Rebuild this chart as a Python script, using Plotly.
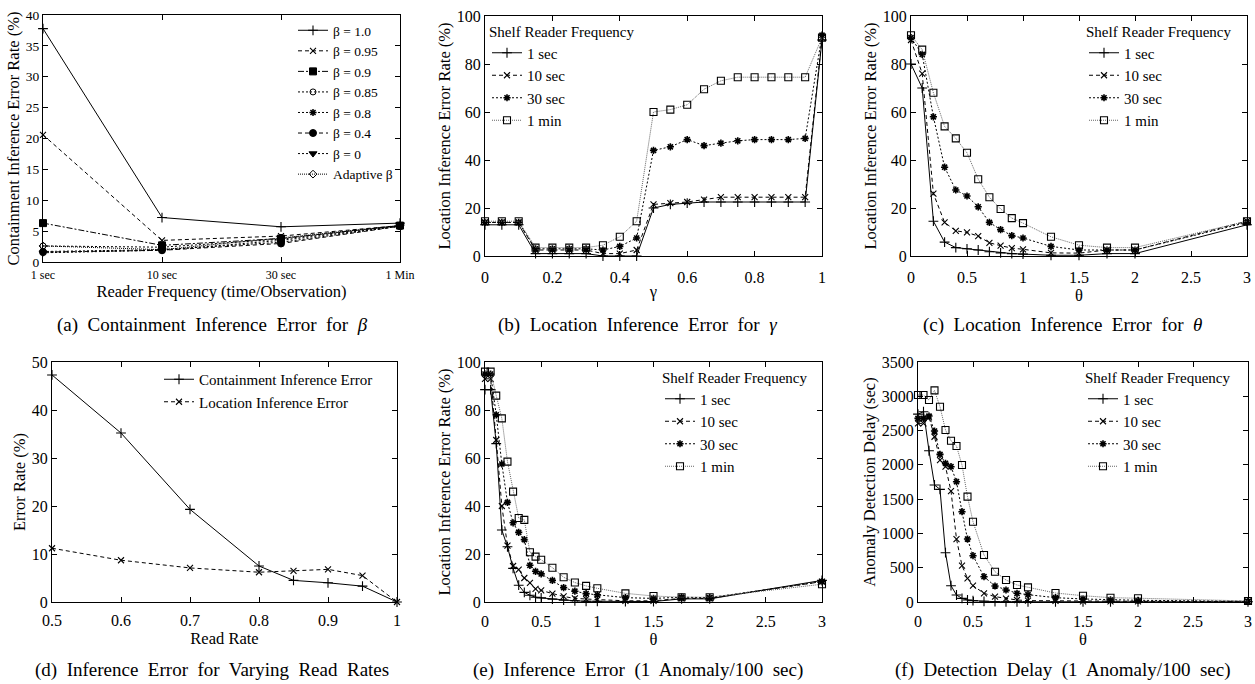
import plotly.graph_objects as go

W, H = 1255, 684
FONT = "Liberation Serif"

# ---------------- (a) Containment inference error for beta ----------------
freq_labels = ["1 sec", "10 sec", "30 sec", "1 Min"]
beta_names = ["β = 1.0", "β = 0.95", "β = 0.9", "β = 0.85", "β = 0.8", "β = 0.4", "β = 0", "Adaptive β"]
beta_1_0 = [37.8, 7.2, 5.7, 6.3]
beta_0_95 = [20.6, 3.5, 4.2, 5.9]
beta_0_9 = [6.3, 2.7, 3.8, 5.9]
beta_0_85 = [2.6, 2.4, 3.7, 5.9]
beta_0_8 = [1.7, 2.0, 3.2, 5.8]
beta_0_4 = [1.6, 1.9, 3.0, 5.8]
beta_0 = [1.5, 1.9, 3.5, 5.8]
beta_adaptive = [2.6, 2.0, 3.9, 5.9]

# ---------------- (b) Location inference error for gamma ----------------
gamma = [0, 0.05, 0.1, 0.15, 0.2, 0.25, 0.3, 0.35, 0.4, 0.45, 0.5,
         0.55, 0.6, 0.65, 0.7, 0.75, 0.8, 0.85, 0.9, 0.95, 1]
gam_1sec = [13, 13, 13, 1, 1, 1, 1, 0, 0, 0, 20, 21.5, 22, 22.5, 22.5, 22.5, 22.5, 22.5, 22.5, 22.5, 90]
gam_10sec = [14, 14, 14, 2.5, 2.5, 2.5, 2.5, 1, 1, 2.5, 21.5, 22, 22.5, 23.5, 24.5, 24.5, 24.5, 24.5, 24.5, 24.5, 91]
gam_30sec = [14, 14, 14, 3, 3, 3, 3, 2.5, 4, 7.5, 44, 45.5, 48.5, 46, 47, 48, 48.5, 48.5, 48.5, 49, 92]
gam_1min = [14.5, 14.5, 14.5, 3.5, 3.5, 3.5, 3.5, 4.5, 8, 14.5, 60, 61, 63, 69.5, 73, 74.5, 74.5, 74.5, 74.5, 74.5, 91]

# ---------------- (c) Location inference error for theta ----------------
theta_c = [0, 0.1, 0.2, 0.3, 0.4, 0.5, 0.6, 0.7, 0.8, 0.9, 1, 1.25, 1.5, 1.75, 2, 3]
thc_1sec = [80, 70, 14.5, 5.8, 3.5, 3, 2.5, 1.8, 1.3, 1.0, 0.8, 0.3, 0.3, 1, 1, 13]
thc_10sec = [90, 76, 26, 14, 10.5, 9.8, 8.3, 5.5, 4.3, 3.3, 2.8, 1.3, 1.2, 2.5, 2.5, 14.5]
thc_30sec = [91, 84, 58, 37, 27.5, 25, 20.5, 14, 11, 8.5, 7.5, 4, 2.5, 2.5, 2.5, 14]
thc_1min = [92, 86, 68, 54, 49, 43, 32, 24.5, 19.6, 15.8, 13.7, 8, 4.5, 3.5, 3.5, 14.5]

# ---------------- (d) Inference error for varying read rates ----------------
read_rate = [0.5, 0.6, 0.7, 0.8, 0.85, 0.9, 0.95, 1]
containment_err = [47.3, 35.2, 19.3, 7.5, 4.5, 4.0, 3.3, 0]
location_err = [11.2, 8.7, 7.1, 6.2, 6.5, 6.8, 5.5, 0]

# ---------------- (e) Inference error (1 anomaly / 100 sec) ----------------
theta_ef = [0, 0.05, 0.1, 0.15, 0.2, 0.25, 0.3, 0.35, 0.4, 0.45, 0.5,
            0.6, 0.7, 0.8, 0.9, 1, 1.25, 1.5, 1.75, 2, 3]
the_1sec = [88.5, 88.5, 66, 30, 23, 14, 7, 4, 2.8, 2, 1.7, 1.2, 0.8, 0.5, 0.3, 0.3, 0.2, 0.2, 1.3, 1.3, 9]
the_10sec = [93, 93, 67.5, 40, 23.5, 15, 13.5, 10, 8, 5.5, 4.8, 3.5, 2.3, 1.5, 1.2, 1, 0.5, 0.5, 1.5, 1.5, 8.5]
the_30sec = [95, 95, 78, 57.5, 41.5, 33, 29, 26, 15.3, 12.8, 11.7, 9, 6, 4.5, 3.5, 3, 1.8, 1.5, 2, 1.8, 8.5]
the_1min = [96, 96, 86, 76.5, 58.5, 46, 35, 34.2, 20.7, 18.9, 17.6, 14.3, 10.3, 8.1, 6.7, 5.7, 3.6, 2.5, 2, 2, 7.4]

# ---------------- (f) Detection delay (1 anomaly / 100 sec) ----------------
thf_1sec = [2740, 2775, 2206, 1706, 1643, 719, 238, 102, 53, 29, 20, 10, 5, 3, 3, 3, 3, 3, 3, 3, 3]
thf_10sec = [2605, 2605, 2693, 2410, 2070, 1973, 1618, 918, 530, 345, 238, 127, 78, 48, 29, 20, 15, 10, 10, 10, 5]
thf_30sec = [2678, 2678, 2712, 2493, 2153, 2022, 1973, 1754, 1317, 918, 675, 369, 233, 175, 127, 107, 63, 44, 30, 25, 10]
thf_1min = [3018, 3018, 2945, 3086, 2848, 2508, 2352, 2274, 1997, 1536, 1171, 685, 442, 321, 248, 214, 131, 92, 63, 55, 15]

freq_names = ["1 sec", "10 sec", "30 sec", "1 min"]

# ---------------- styles ----------------
FREQ_STYLE = [
    dict(dash="solid", color="black", symbol="cross-thin", msize=7, mlw=1.1),
    dict(dash="4px,3px", color="black", symbol="x-thin", msize=6, mlw=1.1),
    dict(dash="2px,2px", color="black", symbol="asterisk", msize=6, mlw=1.6),
    dict(dash="1px,1px", color="#666666", symbol="square-open", msize=7, mlw=1.1),
]
BETA_STYLE = [
    dict(dash="solid", symbol="cross-thin", msize=7, mlw=1.1),
    dict(dash="4px,3px", symbol="x-thin", msize=6, mlw=1.1),
    dict(dash="6px,2px,2px,2px", symbol="square", msize=7, mlw=1),
    dict(dash="2px,2px", symbol="circle-open", msize=6, mlw=1),
    dict(dash="2px,2px", symbol="asterisk", msize=6, mlw=1.5),
    dict(dash="4px,3px", symbol="circle", msize=7, mlw=1),
    dict(dash="2px,2px", symbol="triangle-down", msize=7, mlw=1),
    dict(dash="1px,1px", symbol="diamond-open", msize=6, mlw=1),
]

fig = go.Figure()


def add(x, y, name, st, xa, ya, legend, color="black"):
    c = st.get("color", color)
    fig.add_trace(go.Scatter(
        x=x, y=y, name=name, mode="lines+markers",
        xaxis=xa, yaxis=ya, legend=legend, cliponaxis=False,
        line=dict(color=c, width=1, dash=st["dash"]),
        marker=dict(symbol=st["symbol"], size=st["msize"], color="black",
                    line=dict(color="black", width=st["mlw"])),
    ))


# (a)
for name, ys, st in zip(beta_names,
                        [beta_1_0, beta_0_95, beta_0_9, beta_0_85, beta_0_8, beta_0_4, beta_0, beta_adaptive],
                        BETA_STYLE):
    add(freq_labels, ys, name, st, "x", "y", "legend")
# (b)
for name, ys, st in zip(freq_names, [gam_1sec, gam_10sec, gam_30sec, gam_1min], FREQ_STYLE):
    add(gamma, ys, name, st, "x2", "y2", "legend2")
# (c)
for name, ys, st in zip(freq_names, [thc_1sec, thc_10sec, thc_30sec, thc_1min], FREQ_STYLE):
    add(theta_c, ys, name, st, "x3", "y3", "legend3")
# (d)
add(read_rate, containment_err, "Containment Inference Error", FREQ_STYLE[0], "x4", "y4", "legend4")
add(read_rate, location_err, "Location Inference Error", FREQ_STYLE[1], "x4", "y4", "legend4")
# (e)
for name, ys, st in zip(freq_names, [the_1sec, the_10sec, the_30sec, the_1min], FREQ_STYLE):
    add(theta_ef, ys, name, st, "x5", "y5", "legend5")
# (f)
for name, ys, st in zip(freq_names, [thf_1sec, thf_10sec, thf_30sec, thf_1min], FREQ_STYLE):
    add(theta_ef, ys, name, st, "x6", "y6", "legend6")


def px_x(a, b):
    return [a / W, b / W]


def px_y(top, bottom):
    return [1 - bottom / H, 1 - top / H]


def axis(domain, anchor, title, standoff, tickfont=16, titlefont=16.5, labeloff=0, **kw):
    d = dict(domain=domain, anchor=anchor, showline=True, linecolor="black", linewidth=1,
             mirror="ticks", ticks="inside", ticklen=5, tickcolor="black", tickwidth=1,
             showgrid=False, zeroline=False, automargin=False, ticklabelstandoff=labeloff,
             tickfont=dict(family=FONT, size=tickfont, color="black"),
             title=dict(text=title, font=dict(family=FONT, size=titlefont, color="black"),
                        standoff=standoff))
    d.update(kw)
    return d


lay = {}
# (a)
lay["xaxis"] = axis(px_x(43, 400), "y", "Reader Frequency (time/Observation)", 0, tickfont=12, titlefont=16.5,
                    labeloff=2, type="category", range=[0, 3])
lay["yaxis"] = axis(px_y(15, 262), "x", "Containment Inference Error Rate (%)", 2, tickfont=13.5, titlefont=16.5,
                    range=[0, 40], dtick=5)
# (b)
lay["xaxis2"] = axis(px_x(485, 822), "y2", "γ", 0, labeloff=7, range=[0, 1], dtick=0.2)
lay["yaxis2"] = axis(px_y(16, 256), "x2", "Location Inference Error Rate (%)", 2, range=[0, 100], dtick=20)
# (c)
lay["xaxis3"] = axis(px_x(911, 1247), "y3", "θ", 0, labeloff=7, range=[0, 3], dtick=0.5)
lay["yaxis3"] = axis(px_y(16, 256), "x3", "Location Inference Error Rate (%)", 2, range=[0, 100], dtick=20)
# (d)
lay["xaxis4"] = axis(px_x(52, 397), "y4", "Read Rate", 0, labeloff=4, range=[0.5, 1], dtick=0.1)
lay["yaxis4"] = axis(px_y(362, 602), "x4", "Error Rate (%)", 2, range=[0, 50], dtick=10)
# (e)
lay["xaxis5"] = axis(px_x(485, 822), "y5", "θ", 0, labeloff=5, range=[0, 3], dtick=0.5)
lay["yaxis5"] = axis(px_y(362, 602), "x5", "Location Inference Error Rate (%)", 2, range=[0, 100], dtick=20)
# (f)
lay["xaxis6"] = axis(px_x(918, 1248), "y6", "θ", 0, labeloff=5, range=[0, 3], dtick=0.5)
lay["yaxis6"] = axis(px_y(362, 602), "x6", "Anomaly Detection Delay (sec)", 2, range=[0, 3500], dtick=500)


def legend(x, y, xanchor, size=15, title=None):
    d = dict(x=x / W, y=1 - y / H, xanchor=xanchor, yanchor="top", bgcolor="rgba(0,0,0,0)",
             font=dict(family=FONT, size=size, color="black"), tracegroupgap=0,
             itemwidth=30)
    if title:
        d["title"] = dict(text=title, side="top", font=dict(family=FONT, size=size, color="black"))
    return d


lay["legend"] = legend(398, 15, "right", size=13.5)
lay["legend2"] = legend(487, 17, "left", title="Shelf Reader Frequency")
lay["legend3"] = legend(1234, 17, "right", title="Shelf Reader Frequency")
lay["legend4"] = legend(378, 363, "right")
lay["legend5"] = legend(810, 363, "right", title="Shelf Reader Frequency")
lay["legend6"] = legend(1233, 363, "right", title="Shelf Reader Frequency")

captions = [
    (212, 325, "(a)  Containment  Inference  Error  for  <i>β</i>"),
    (637, 325, "(b)  Location  Inference  Error  for  <i>γ</i>"),
    (1062, 325, "(c)  Location  Inference  Error  for  <i>θ</i>"),
    (212, 670, "(d)  Inference  Error  for  Varying  Read  Rates"),
    (638, 670, "(e)  Inference  Error  (1  Anomaly/100  sec)"),
    (1063, 670, "(f)  Detection  Delay  (1  Anomaly/100  sec)"),
]
annotations = [dict(x=cx / W, y=1 - cy / H, xref="paper", yref="paper", text=t, showarrow=False,
                    xanchor="center", yanchor="middle",
                    font=dict(family=FONT, size=19, color="black")) for cx, cy, t in captions]

fig.update_layout(
    width=W, height=H, margin=dict(l=0, r=0, t=0, b=0, autoexpand=False),
    paper_bgcolor="white", plot_bgcolor="white",
    font=dict(family=FONT, color="black"),
    showlegend=True, annotations=annotations, **lay,
)

fig.write_html("out.html", config={"displayModeBar": False},
               post_script="document.body.style.margin='0px';document.body.style.overflow='hidden';")
